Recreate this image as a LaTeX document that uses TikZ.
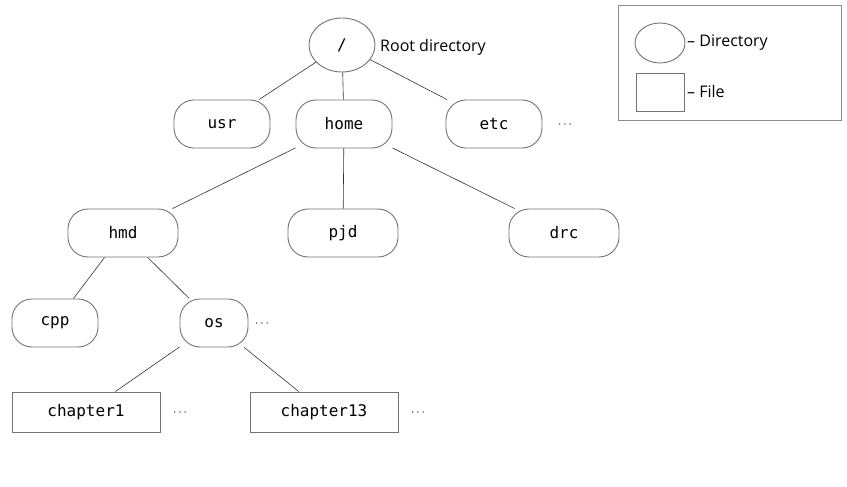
\documentclass[tikz,border=0pt]{standalone}
\usepackage{fontspec}
\setmainfont{Open Sans}
\setmonofont{DejaVu Sans Mono}
\usetikzlibrary{shapes.geometric}
\begin{document}
\begin{tikzpicture}[x=1pt,y=-1pt,
  dir/.style={draw=black!55, line width=0.9pt, rounded corners=20pt, minimum height=48pt, inner sep=0pt, font=\ttfamily\fontsize{16}{16}\selectfont},
  file/.style={draw=black!55, line width=0.9pt, minimum height=40pt, minimum width=148pt, inner sep=0pt, font=\ttfamily\fontsize{16}{16}\selectfont},
  link/.style={draw=black!80, line width=0.6pt},
  lbl/.style={font=\fontsize{16}{16}\selectfont, inner sep=0pt},
  dots/.style={font=\fontsize{13}{13}\selectfont, inner sep=0pt}]
\useasboundingbox (0,0) rectangle (847,487);
% root
\node[draw=black!55, line width=0.9pt, ellipse, minimum width=66pt, minimum height=54pt, inner sep=0pt, font=\ttfamily\fontsize{16}{16}\selectfont] (root) at (342,45) {/};
\node[lbl, anchor=west] (rootlbl) at (380,47) {Root directory};
% level 1
\node[dir, minimum width=96pt] (usr) at (222,124) {usr};
\node[dir, minimum width=96pt] (home) at (344,124) {home};
\node[dir, minimum width=96pt] (etc) at (494,124) {etc};
\node[dots] (d1) at (565,125) {$\cdots$};
% level 2
\node[dir, minimum width=110pt] (hmd) at (123,233) {hmd};
\node[dir, minimum width=110pt] (pjd) at (343,233) {pjd};
\node[dir, minimum width=110pt] (drc) at (564,233) {drc};
% level 3
\node[dir, minimum width=86pt] (cpp) at (55,323) {cpp};
\node[dir, minimum width=68pt] (os) at (214,323) {os};
\node[dots] (d2) at (262,324) {$\cdots$};
% level 4
\node[file] (ch1) at (86,412) {chapter1};
\node[dots] (d3) at (180,413) {$\cdots$};
\node[file] (ch13) at (324,412) {chapter13};
\node[dots] (d4) at (418,413) {$\cdots$};
% edges
\draw[link] (root) -- (usr);
\draw[link] (root) -- (home);
\draw[link] (root) -- (etc);
\draw[link] (home) -- (hmd);
\draw[link] (home) -- (pjd);
\draw[link] (home) -- (drc);
\draw[link] (hmd) -- (cpp);
\draw[link] (hmd) -- (os);
\draw[link] (os) -- (ch1);
\draw[link] (os) -- (ch13);
% legend
\node[draw=black!45, line width=0.8pt, minimum width=223pt, minimum height=115pt, inner sep=0pt] (legend) at (730,63) {};
\node[draw=black!55, line width=0.9pt, ellipse, minimum width=50pt, minimum height=40pt, inner sep=0pt] (lell) at (660,43) {};
\node[lbl, anchor=west] (ldir) at (687,43) {-- Directory};
\node[draw=black!55, line width=0.9pt, minimum width=48pt, minimum height=38pt, inner sep=0pt] (lrect) at (660,92) {};
\node[lbl, anchor=west] (lfile) at (687,92) {-- File};
\end{tikzpicture}
\end{document}
